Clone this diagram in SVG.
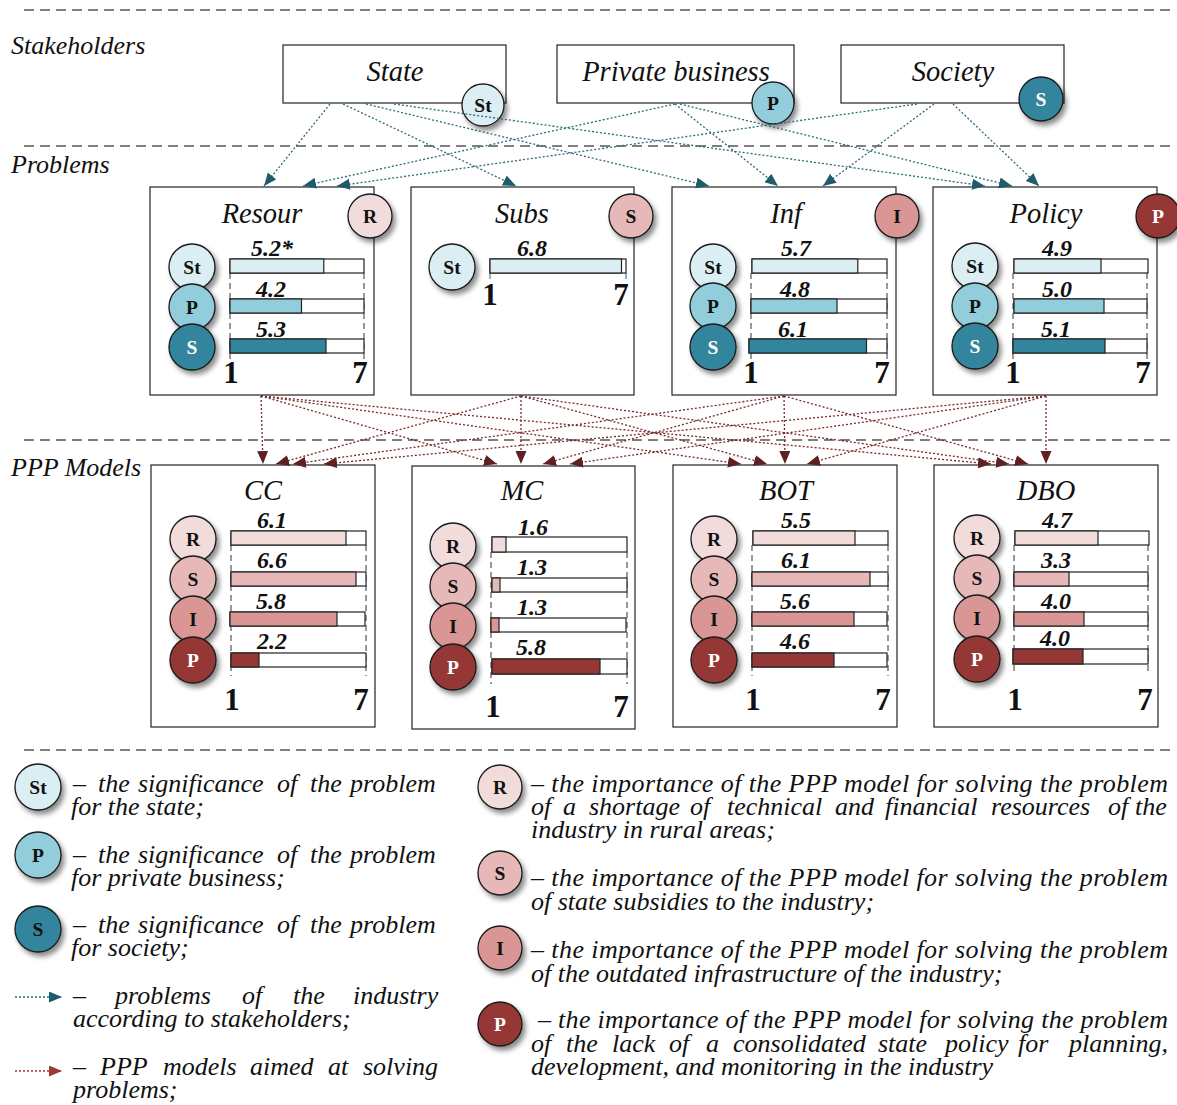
<svg xmlns="http://www.w3.org/2000/svg" width="1177" height="1105" viewBox="0 0 1177 1105" font-family="'Liberation Serif', 'Times New Roman', serif">
<defs>
<filter id="sh" x="-40%" y="-40%" width="190%" height="190%">
<feDropShadow dx="3" dy="4" stdDeviation="2.5" flood-color="#000" flood-opacity="0.45"/>
</filter>
<marker id="ab" markerUnits="userSpaceOnUse" markerWidth="14" markerHeight="12" refX="13" refY="5.5" orient="auto">
<path d="M0,0 L13,5.5 L0,11 z" fill="#1f5c6b"/>
</marker>
<marker id="ar" markerUnits="userSpaceOnUse" markerWidth="14" markerHeight="12" refX="13" refY="5.5" orient="auto">
<path d="M0,0 L13,5.5 L0,11 z" fill="#5e2020"/>
</marker>
<marker id="arl" markerUnits="userSpaceOnUse" markerWidth="14" markerHeight="12" refX="13" refY="5.5" orient="auto">
<path d="M0,0 L13,5.5 L0,11 z" fill="#9a3a32"/>
</marker>
</defs>
<style>
text{fill:#111}
.sec{font-style:italic;font-size:26px}
.box{fill:#fff;stroke:#333;stroke-width:1.3}
.ttl{font-style:italic;font-size:28.5px;text-anchor:middle}
.val{font-style:italic;font-weight:bold;font-size:24px;text-anchor:middle}
.ax{font-weight:bold;font-size:31px;text-anchor:middle}
.cl{font-weight:bold;font-size:19.5px;text-anchor:middle}
.wt{fill:#fff}
.bo{fill:#fff;stroke:#222;stroke-width:1.2}
.gd{stroke:#333;stroke-width:1;stroke-dasharray:6 4}
.cb{stroke:#1a1a1a;stroke-width:1.3;filter:url(#sh)}
.sep{stroke:#555;stroke-width:1.5;stroke-dasharray:10 6}
.blue{stroke:#2b6b7a;stroke-width:1.3;stroke-dasharray:2 2;fill:none;marker-end:url(#ab)}
.red{stroke:#7a2a2a;stroke-width:1.3;stroke-dasharray:2 2;fill:none;marker-end:url(#ar)}
.lg{font-style:italic;font-size:26px}
.cSt{fill:#daeef3}.cP{fill:#92cddc}.cS{fill:#31859c}
.cR{fill:#f2dcdb}.cSr{fill:#e6b9b8}.cI{fill:#d99694}.cPr{fill:#953735}
.f{stroke:#222;stroke-width:1.2}
</style>
<rect width="1177" height="1105" fill="#fff"/>

<g id="separators">
<line class="sep" x1="24" y1="10" x2="1172" y2="10"/>
<line class="sep" x1="24" y1="146" x2="1172" y2="146"/>
<line class="sep" x1="24" y1="440" x2="1172" y2="440"/>
<line class="sep" x1="24" y1="750" x2="1172" y2="750"/>
</g>
<g id="section-labels">
<text class="sec" x="11" y="54">Stakeholders</text>
<text class="sec" x="11" y="173">Problems</text>
<text class="sec" x="11" y="476">PPP Models</text>
</g>

<!-- Stakeholders -->
<g id="s-state">
<rect class="box" x="283" y="45" width="223" height="58"/>
<text class="ttl" x="395" y="81">State</text>
<circle class="cb cSt" cx="483" cy="105" r="21"/><text class="cl" x="483" y="112">St</text>
</g>
<g id="s-private">
<rect class="box" x="557" y="45" width="237" height="58"/>
<text class="ttl" x="676" y="81">Private business</text>
<circle class="cb cP" cx="773" cy="103" r="21"/><text class="cl" x="773" y="110">P</text>
</g>
<g id="s-society">
<rect class="box" x="841" y="45" width="223" height="58"/>
<text class="ttl" x="953" y="81">Society</text>
<circle class="cb cS" cx="1041" cy="99" r="22"/><text class="cl wt" x="1041" y="106">S</text>
</g>

<!-- Problems -->
<g id="p-resour">
<rect class="box" x="150" y="187" width="224" height="208"/>
<text class="ttl" x="262" y="223">Resour</text>
<line class="gd" x1="230" y1="273" x2="230" y2="362"/><line class="gd" x1="364" y1="273" x2="364" y2="362"/>
<rect class="bo" x="230" y="259" width="134" height="14"/><rect class="f cSt" x="230" y="259" width="93.8" height="14"/>
<rect class="bo" x="230" y="299" width="134" height="14"/><rect class="f cP" x="230" y="299" width="71.5" height="14"/>
<rect class="bo" x="230" y="339" width="134" height="14"/><rect class="f cS" x="230" y="339" width="96" height="14"/>
<text class="val" x="272" y="256">5.2*</text><text class="val" x="271" y="297">4.2</text><text class="val" x="271" y="337">5.3</text>
<circle class="cb cSt" cx="192" cy="267" r="23"/><text class="cl" x="192" y="274">St</text>
<circle class="cb cP" cx="192" cy="307" r="23"/><text class="cl" x="192" y="314">P</text>
<circle class="cb cS" cx="192" cy="347" r="23"/><text class="cl wt" x="192" y="354">S</text>
<text class="ax" x="231" y="383">1</text><text class="ax" x="360" y="383">7</text>
<circle class="cb cR" cx="370" cy="216" r="22"/><text class="cl" x="370" y="223">R</text>
</g>
<g id="p-subs">
<rect class="box" x="411" y="187" width="223" height="208"/>
<text class="ttl" x="522" y="223">Subs</text>
<line x1="490" y1="273" x2="490" y2="279" stroke="#2b6b7a"/><line x1="626" y1="273" x2="626" y2="279" stroke="#2b6b7a"/>
<rect class="bo" x="490" y="259" width="136" height="14"/><rect class="f cSt" x="490" y="259" width="131.5" height="14"/>
<text class="val" x="532" y="256">6.8</text>
<circle class="cb cSt" cx="452" cy="267" r="23"/><text class="cl" x="452" y="274">St</text>
<text class="ax" x="490" y="305">1</text><text class="ax" x="621" y="305">7</text>
<circle class="cb cSr" cx="631" cy="216" r="22"/><text class="cl" x="631" y="223">S</text>
</g>
<g id="p-inf">
<rect class="box" x="672" y="187" width="224" height="208"/>
<text class="ttl" x="786" y="223">Inf</text>
<line class="gd" x1="751" y1="273" x2="751" y2="362"/><line class="gd" x1="887" y1="273" x2="887" y2="362"/>
<rect class="bo" x="752" y="259" width="135" height="14"/><rect class="f cSt" x="752" y="259" width="105.8" height="14"/>
<rect class="bo" x="751" y="299" width="136" height="14"/><rect class="f cP" x="751" y="299" width="86" height="14"/>
<rect class="bo" x="749" y="339" width="138" height="14"/><rect class="f cS" x="749" y="339" width="117.5" height="14"/>
<text class="val" x="796" y="256">5.7</text><text class="val" x="795" y="297">4.8</text><text class="val" x="793" y="337">6.1</text>
<circle class="cb cSt" cx="713" cy="267" r="23"/><text class="cl" x="713" y="274">St</text>
<circle class="cb cP" cx="713" cy="306" r="23"/><text class="cl" x="713" y="313">P</text>
<circle class="cb cS" cx="713" cy="347" r="23"/><text class="cl wt" x="713" y="354">S</text>
<text class="ax" x="751" y="383">1</text><text class="ax" x="882" y="383">7</text>
<circle class="cb cI" cx="897" cy="216" r="22"/><text class="cl" x="897" y="223">I</text>
</g>
<g id="p-policy">
<rect class="box" x="933" y="187" width="224" height="208"/>
<text class="ttl" x="1046" y="223">Policy</text>
<line class="gd" x1="1013" y1="273" x2="1013" y2="362"/><line class="gd" x1="1147" y1="273" x2="1147" y2="362"/>
<rect class="bo" x="1014" y="259" width="134" height="14"/><rect class="f cSt" x="1014" y="259" width="87" height="14"/>
<rect class="bo" x="1014" y="299" width="133" height="14"/><rect class="f cP" x="1014" y="299" width="90" height="14"/>
<rect class="bo" x="1013" y="339" width="134" height="14"/><rect class="f cS" x="1013" y="339" width="92" height="14"/>
<text class="val" x="1057" y="256">4.9</text><text class="val" x="1057" y="297">5.0</text><text class="val" x="1056" y="337">5.1</text>
<circle class="cb cSt" cx="975" cy="266" r="23"/><text class="cl" x="975" y="273">St</text>
<circle class="cb cP" cx="975" cy="306" r="23"/><text class="cl" x="975" y="313">P</text>
<circle class="cb cS" cx="975" cy="346" r="23"/><text class="cl wt" x="975" y="353">S</text>
<text class="ax" x="1013" y="383">1</text><text class="ax" x="1143" y="383">7</text>
<circle class="cb cPr" cx="1158" cy="216" r="22"/><text class="cl wt" x="1158" y="223">P</text>
</g>

<!-- PPP models -->
<g id="m-cc">
<rect class="box" x="151" y="465" width="224" height="262"/>
<text class="ttl" x="263" y="500">CC</text>
<line class="gd" x1="231" y1="545" x2="231" y2="676"/><line class="gd" x1="366" y1="545" x2="366" y2="676"/>
<rect class="bo" x="231" y="531" width="135" height="14"/><rect class="f cR" x="231" y="531" width="115" height="14"/>
<rect class="bo" x="231" y="572" width="135" height="14"/><rect class="f cSr" x="231" y="572" width="125" height="14"/>
<rect class="bo" x="230" y="612" width="135" height="14"/><rect class="f cI" x="230" y="612" width="107" height="14"/>
<rect class="bo" x="231" y="653" width="135" height="14"/><rect class="f cPr" x="231" y="653" width="28" height="14"/>
<text class="val" x="272" y="528">6.1</text><text class="val" x="272" y="568">6.6</text><text class="val" x="271" y="609">5.8</text><text class="val" x="272" y="649">2.2</text>
<circle class="cb cR" cx="193" cy="539" r="23"/><text class="cl" x="193" y="546">R</text>
<circle class="cb cSr" cx="193" cy="579" r="23"/><text class="cl" x="193" y="586">S</text>
<circle class="cb cI" cx="193" cy="619" r="23"/><text class="cl" x="193" y="626">I</text>
<circle class="cb cPr" cx="193" cy="660" r="23"/><text class="cl wt" x="193" y="667">P</text>
<text class="ax" x="232" y="710">1</text><text class="ax" x="361" y="710">7</text>
</g>
<g id="m-mc">
<rect class="box" x="412" y="466" width="223" height="263"/>
<text class="ttl" x="522" y="500">MC</text>
<line class="gd" x1="491" y1="552" x2="491" y2="684"/><line class="gd" x1="627" y1="552" x2="627" y2="684"/>
<rect class="bo" x="492" y="537" width="135" height="15"/><rect class="f cR" x="492" y="537" width="14" height="15"/>
<rect class="bo" x="492" y="578" width="135" height="14"/><rect class="f cSr" x="492" y="578" width="8" height="14"/>
<rect class="bo" x="491" y="618" width="135" height="14"/><rect class="f cI" x="491" y="618" width="8" height="14"/>
<rect class="bo" x="492" y="659" width="135" height="15"/><rect class="f cPr" x="492" y="659" width="108" height="15"/>
<text class="val" x="533" y="535">1.6</text><text class="val" x="532" y="575">1.3</text><text class="val" x="532" y="615">1.3</text><text class="val" x="531" y="655">5.8</text>
<circle class="cb cR" cx="453" cy="546" r="23"/><text class="cl" x="453" y="553">R</text>
<circle class="cb cSr" cx="453" cy="586" r="23"/><text class="cl" x="453" y="593">S</text>
<circle class="cb cI" cx="453" cy="626" r="23"/><text class="cl" x="453" y="633">I</text>
<circle class="cb cPr" cx="453" cy="667" r="23"/><text class="cl wt" x="453" y="674">P</text>
<text class="ax" x="493" y="717">1</text><text class="ax" x="621" y="717">7</text>
</g>
<g id="m-bot">
<rect class="box" x="673" y="465" width="224" height="262"/>
<text class="ttl" x="786" y="500">BOT</text>
<line class="gd" x1="752" y1="545" x2="752" y2="676"/><line class="gd" x1="888" y1="545" x2="888" y2="676"/>
<rect class="bo" x="753" y="531" width="135" height="14"/><rect class="f cR" x="753" y="531" width="102" height="14"/>
<rect class="bo" x="752" y="572" width="136" height="14"/><rect class="f cSr" x="752" y="572" width="118" height="14"/>
<rect class="bo" x="752" y="612" width="135" height="14"/><rect class="f cI" x="752" y="612" width="102" height="14"/>
<rect class="bo" x="752" y="653" width="135" height="14"/><rect class="f cPr" x="752" y="653" width="82" height="14"/>
<text class="val" x="796" y="528">5.5</text><text class="val" x="796" y="568">6.1</text><text class="val" x="795" y="609">5.6</text><text class="val" x="795" y="649">4.6</text>
<circle class="cb cR" cx="714" cy="539" r="23"/><text class="cl" x="714" y="546">R</text>
<circle class="cb cSr" cx="714" cy="579" r="23"/><text class="cl" x="714" y="586">S</text>
<circle class="cb cI" cx="714" cy="619" r="23"/><text class="cl" x="714" y="626">I</text>
<circle class="cb cPr" cx="714" cy="660" r="23"/><text class="cl wt" x="714" y="667">P</text>
<text class="ax" x="753" y="710">1</text><text class="ax" x="883" y="710">7</text>
</g>
<g id="m-dbo">
<rect class="box" x="934" y="465" width="224" height="262"/>
<text class="ttl" x="1046" y="500">DBO</text>
<line class="gd" x1="1014" y1="545" x2="1014" y2="672"/><line class="gd" x1="1148" y1="545" x2="1148" y2="672"/>
<rect class="bo" x="1015" y="531" width="134" height="14"/><rect class="f cR" x="1015" y="531" width="83" height="14"/>
<rect class="bo" x="1014" y="572" width="134" height="14"/><rect class="f cSr" x="1014" y="572" width="55" height="14"/>
<rect class="bo" x="1014" y="612" width="134" height="14"/><rect class="f cI" x="1014" y="612" width="70" height="14"/>
<rect class="bo" x="1013" y="649" width="135" height="15"/><rect class="f cPr" x="1013" y="649" width="70" height="15"/>
<text class="val" x="1057" y="528">4.7</text><text class="val" x="1056" y="568">3.3</text><text class="val" x="1056" y="609">4.0</text><text class="val" x="1055" y="646">4.0</text>
<circle class="cb cR" cx="977" cy="538" r="23"/><text class="cl" x="977" y="545">R</text>
<circle class="cb cSr" cx="977" cy="578" r="23"/><text class="cl" x="977" y="585">S</text>
<circle class="cb cI" cx="977" cy="618" r="23"/><text class="cl" x="977" y="625">I</text>
<circle class="cb cPr" cx="977" cy="659" r="23"/><text class="cl wt" x="977" y="666">P</text>
<text class="ax" x="1015" y="710">1</text><text class="ax" x="1145" y="710">7</text>
</g>

<!-- Connectors -->
<g id="connectors">
<line class="blue" x1="330" y1="104" x2="264" y2="186"/>
<line class="blue" x1="343" y1="104" x2="516" y2="186"/>
<line class="blue" x1="366" y1="104" x2="709" y2="186"/>
<line class="blue" x1="394" y1="104" x2="985" y2="186"/>
<line class="blue" x1="675" y1="104" x2="303" y2="186"/>
<line class="blue" x1="675" y1="104" x2="778" y2="186"/>
<line class="blue" x1="680" y1="104" x2="1012" y2="186"/>
<line class="blue" x1="917" y1="104" x2="337" y2="186"/>
<line class="blue" x1="934" y1="104" x2="823" y2="186"/>
<line class="blue" x1="953" y1="104" x2="1039" y2="186"/>

<line class="red" x1="261" y1="396" x2="263" y2="464"/>
<line class="red" x1="261" y1="396" x2="497" y2="464"/>
<line class="red" x1="261" y1="396" x2="741" y2="464"/>
<line class="red" x1="261" y1="396" x2="991" y2="464"/>
<line class="red" x1="521" y1="396" x2="276" y2="464"/>
<line class="red" x1="521" y1="396" x2="521" y2="464"/>
<line class="red" x1="521" y1="396" x2="767" y2="464"/>
<line class="red" x1="521" y1="396" x2="1009" y2="464"/>
<line class="red" x1="784" y1="396" x2="293" y2="464"/>
<line class="red" x1="784" y1="396" x2="543" y2="464"/>
<line class="red" x1="784" y1="396" x2="785" y2="464"/>
<line class="red" x1="784" y1="396" x2="1028" y2="464"/>
<line class="red" x1="1046" y1="396" x2="324" y2="464"/>
<line class="red" x1="1046" y1="396" x2="570" y2="464"/>
<line class="red" x1="1046" y1="396" x2="807" y2="464"/>
<line class="red" x1="1046" y1="396" x2="1046" y2="464"/>
</g>

<!-- Legend -->
<g id="legend-left">
<circle class="cb cSt" cx="38" cy="787" r="23"/><text class="cl" x="38" y="794">St</text>
<text class="lg" y="792"><tspan x="73">–</tspan><tspan x="98">the</tspan><tspan x="138">significance</tspan><tspan x="277">of</tspan><tspan x="310">the</tspan><tspan x="350">problem</tspan></text>
<text class="lg" x="71" y="815">for the state;</text>
<circle class="cb cP" cx="38" cy="855" r="23"/><text class="cl" x="38" y="862">P</text>
<text class="lg" y="863"><tspan x="73">–</tspan><tspan x="98">the</tspan><tspan x="138">significance</tspan><tspan x="277">of</tspan><tspan x="310">the</tspan><tspan x="350">problem</tspan></text>
<text class="lg" x="71" y="886">for private business;</text>
<circle class="cb cS" cx="38" cy="929" r="23"/><text class="cl" x="38" y="936">S</text>
<text class="lg" y="933"><tspan x="73">–</tspan><tspan x="98">the</tspan><tspan x="138">significance</tspan><tspan x="277">of</tspan><tspan x="310">the</tspan><tspan x="350">problem</tspan></text>
<text class="lg" x="71" y="956">for society;</text>
<line x1="15" y1="997" x2="62" y2="997" stroke="#2b6b7a" stroke-width="1.3" stroke-dasharray="2 2" marker-end="url(#ab)"/>
<text class="lg" y="1004"><tspan x="73">–</tspan><tspan x="115">problems</tspan><tspan x="242">of</tspan><tspan x="293">the</tspan><tspan x="353">industry</tspan></text>
<text class="lg" x="73" y="1027">according to stakeholders;</text>
<line x1="15" y1="1071" x2="62" y2="1071" stroke="#9a3a32" stroke-width="1.3" stroke-dasharray="2 2" marker-end="url(#arl)"/>
<text class="lg" y="1075"><tspan x="73">–</tspan><tspan x="100">PPP</tspan><tspan x="163">models</tspan><tspan x="250">aimed</tspan><tspan x="328">at</tspan><tspan x="363">solving</tspan></text>
<text class="lg" x="73" y="1098">problems;</text>
</g>
<g id="legend-right">
<circle class="cb cR" cx="500" cy="787" r="22"/><text class="cl" x="500" y="794">R</text>
<text class="lg" x="531" y="792" textLength="637" lengthAdjust="spacing">– the importance of the PPP model for solving the problem</text>
<text class="lg" y="815"><tspan x="531">of</tspan><tspan x="563">a</tspan><tspan x="589">shortage</tspan><tspan x="690">of</tspan><tspan x="727">technical</tspan><tspan x="835">and</tspan><tspan x="885">financial</tspan><tspan x="991">resources</tspan><tspan x="1108">of</tspan><tspan x="1135">the</tspan></text>
<text class="lg" x="531" y="838">industry in rural areas;</text>
<circle class="cb cSr" cx="500" cy="873" r="22"/><text class="cl" x="500" y="880">S</text>
<text class="lg" x="531" y="886" textLength="637" lengthAdjust="spacing">– the importance of the PPP model for solving the problem</text>
<text class="lg" x="531" y="910">of state subsidies to the industry;</text>
<circle class="cb cI" cx="500" cy="948" r="22"/><text class="cl" x="500" y="955">I</text>
<text class="lg" x="531" y="958" textLength="637" lengthAdjust="spacing">– the importance of the PPP model for solving the problem</text>
<text class="lg" x="531" y="982">of the outdated infrastructure of the industry;</text>
<circle class="cb cPr" cx="500" cy="1024" r="22"/><text class="cl wt" x="500" y="1031">P</text>
<text class="lg" x="538" y="1028" textLength="630" lengthAdjust="spacing">– the importance of the PPP model for solving the problem</text>
<text class="lg" y="1052"><tspan x="531">of</tspan><tspan x="566">the</tspan><tspan x="612">lack</tspan><tspan x="669">of</tspan><tspan x="706">a</tspan><tspan x="733">consolidated</tspan><tspan x="878">state</tspan><tspan x="945">policy</tspan><tspan x="1018">for</tspan><tspan x="1069">planning,</tspan></text>
<text class="lg" x="531" y="1075">development, and monitoring in the industry</text>
</g>
</svg>
